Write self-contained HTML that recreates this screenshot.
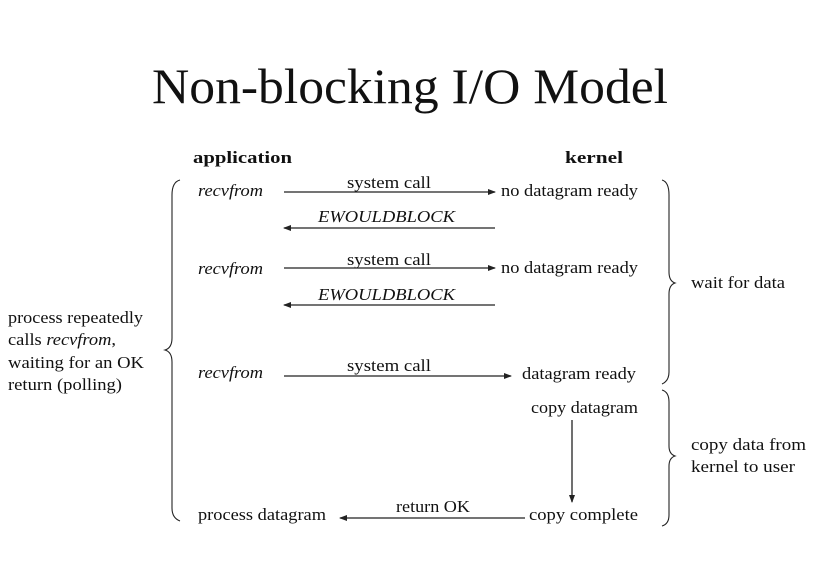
<!DOCTYPE html>
<html><head><meta charset="utf-8"><style>
html,body{margin:0;padding:0;background:#fff;}
svg{display:block;}
text{font-family:"Liberation Serif",serif;fill:#111;}
</style></head><body>
<svg width="821" height="565" viewBox="0 0 821 565" xmlns="http://www.w3.org/2000/svg">
<defs><marker id="a" markerWidth="8" markerHeight="6" refX="7" refY="3" orient="auto" markerUnits="userSpaceOnUse"><path d="M0,0 L8,3 L0,6 z" fill="#222"/></marker></defs>
<text x="152" y="103" font-size="50" textLength="516" lengthAdjust="spacingAndGlyphs">Non-blocking I/O Model</text>
<g font-size="17" lengthAdjust="spacingAndGlyphs">
<text x="193" y="163" font-weight="bold" textLength="99" lengthAdjust="spacingAndGlyphs">application</text>
<text x="565" y="163" font-weight="bold" textLength="58" lengthAdjust="spacingAndGlyphs">kernel</text>

<text x="198" y="196" font-style="italic" textLength="65" lengthAdjust="spacingAndGlyphs">recvfrom</text>
<text x="347" y="188" textLength="84" lengthAdjust="spacingAndGlyphs">system call</text>
<text x="501" y="196" textLength="137" lengthAdjust="spacingAndGlyphs">no datagram ready</text>
<text x="318" y="222" font-style="italic" textLength="137" lengthAdjust="spacingAndGlyphs">EWOULDBLOCK</text>

<text x="198" y="274" font-style="italic" textLength="65" lengthAdjust="spacingAndGlyphs">recvfrom</text>
<text x="347" y="265" textLength="84" lengthAdjust="spacingAndGlyphs">system call</text>
<text x="501" y="273" textLength="137" lengthAdjust="spacingAndGlyphs">no datagram ready</text>
<text x="318" y="300" font-style="italic" textLength="137" lengthAdjust="spacingAndGlyphs">EWOULDBLOCK</text>

<text x="198" y="378" font-style="italic" textLength="65" lengthAdjust="spacingAndGlyphs">recvfrom</text>
<text x="347" y="371" textLength="84" lengthAdjust="spacingAndGlyphs">system call</text>
<text x="522" y="379" textLength="114" lengthAdjust="spacingAndGlyphs">datagram ready</text>

<text x="531" y="413" textLength="107" lengthAdjust="spacingAndGlyphs">copy datagram</text>
<text x="198" y="520" textLength="128" lengthAdjust="spacingAndGlyphs">process datagram</text>
<text x="396" y="512" textLength="74" lengthAdjust="spacingAndGlyphs">return OK</text>
<text x="529" y="520" textLength="109" lengthAdjust="spacingAndGlyphs">copy complete</text>

<text x="8" y="323" textLength="135" lengthAdjust="spacingAndGlyphs">process repeatedly</text>
<text x="8" y="345" textLength="108" lengthAdjust="spacingAndGlyphs">calls <tspan font-style="italic">recvfrom</tspan>,</text>
<text x="8" y="368" textLength="136" lengthAdjust="spacingAndGlyphs">waiting for an OK</text>
<text x="8" y="390" textLength="114" lengthAdjust="spacingAndGlyphs">return (polling)</text>

<text x="691" y="288" textLength="94" lengthAdjust="spacingAndGlyphs">wait for data</text>
<text x="691" y="450" textLength="115" lengthAdjust="spacingAndGlyphs">copy data from</text>
<text x="691" y="472" textLength="104" lengthAdjust="spacingAndGlyphs">kernel to user</text>
</g>
<g stroke="#222" stroke-width="1.3" fill="none">
<line x1="284" y1="192" x2="495" y2="192" marker-end="url(#a)"/>
<line x1="495" y1="228" x2="284" y2="228" marker-end="url(#a)"/>
<line x1="284" y1="268" x2="495" y2="268" marker-end="url(#a)"/>
<line x1="495" y1="305" x2="284" y2="305" marker-end="url(#a)"/>
<line x1="284" y1="376" x2="511" y2="376" marker-end="url(#a)"/>
<line x1="572" y1="420" x2="572" y2="502" marker-end="url(#a)"/>
<line x1="525" y1="518" x2="340" y2="518" marker-end="url(#a)"/>
<path d="M180,180 Q172,182 172,195 L172,338 Q172,348 165,350 Q172,352 172,362 L172,508 Q172,518 180,521" stroke-width="1.1"/>
<path d="M662,180 Q669,182 669,195 L669,272 Q669,281 675,283 Q669,285 669,294 L669,372 Q669,381 662,384" stroke-width="1.1"/>
<path d="M662,390 Q669,392 669,402 L669,446 Q669,454 675,456 Q669,458 669,466 L669,515 Q669,524 662,526" stroke-width="1.1"/>
</g>
</svg>
</body></html>
